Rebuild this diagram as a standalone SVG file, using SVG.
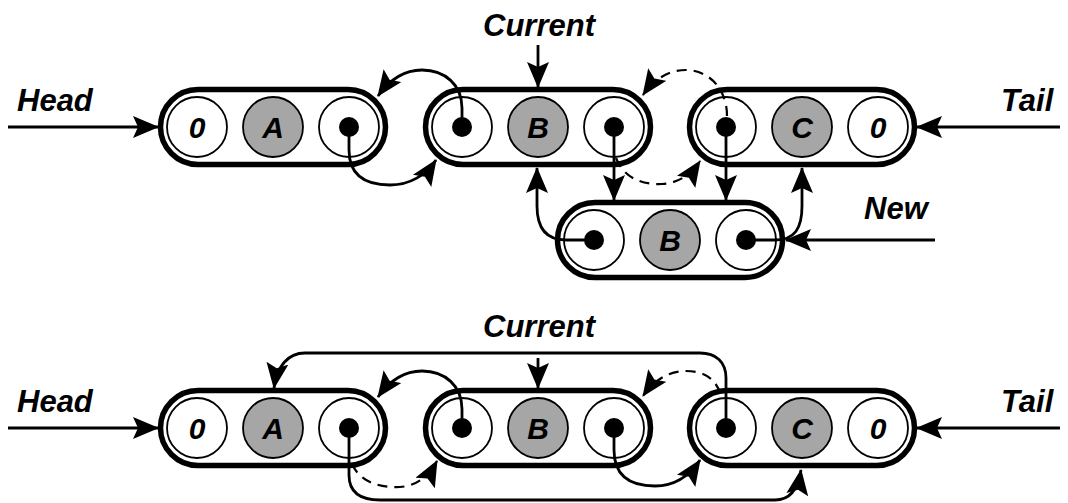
<svg xmlns="http://www.w3.org/2000/svg" width="1068" height="503" viewBox="0 0 1068 503">
<style>
.box{fill:#fff;stroke:#000;stroke-width:5.5}
.c{fill:#fff;stroke:#000;stroke-width:1.8}
.g{fill:#a6a6a6;stroke:#000;stroke-width:1.8}
.dot{fill:#000}
.t{font-family:"Liberation Sans",Arial,sans-serif;font-weight:bold;font-style:italic;font-size:31px;fill:#000}
.v{font-family:"Liberation Sans",Arial,sans-serif;font-weight:bold;font-style:italic;font-size:31px;fill:#000;text-anchor:middle}
.n{font-family:"Liberation Sans",Arial,sans-serif;font-weight:bold;font-style:italic;font-size:30px;fill:#000;text-anchor:middle}
.ln{fill:none;stroke:#000;stroke-width:2.8;marker-end:url(#ah)}
.ds{fill:none;stroke:#000;stroke-width:2.2;stroke-dasharray:10 7;marker-end:url(#ah)}
</style>
<defs>
<marker id="ah" markerUnits="userSpaceOnUse" markerWidth="28" markerHeight="24" refX="25" refY="11" orient="auto" viewBox="0 0 28 24">
<path d="M0,0 L26,11 L0,22 L5,11 Z" fill="#000"/>
</marker>
</defs>

<g id="label-head-top"><text class="t" x="17" y="111">Head</text></g>
<g id="label-tail-top"><text class="t" x="1001" y="111">Tail</text></g>
<g id="label-current-top"><text class="v" x="539" y="36">Current</text></g>
<g id="label-new"><text class="t" x="864" y="219">New</text></g>
<g id="label-head-bottom"><text class="t" x="17" y="412">Head</text></g>
<g id="label-tail-bottom"><text class="t" x="1001" y="412">Tail</text></g>
<g id="label-current-bottom"><text class="v" x="539" y="337">Current</text></g>

<g id="node-A-top">
<rect class="box" x="160.5" y="89.5" width="225" height="75" rx="37.5"/>
<circle class="c" cx="197" cy="127" r="30"/><text class="n" x="197" y="138">0</text>
<circle class="g" cx="273" cy="127" r="30"/><text class="n" x="273" y="138">A</text>
<circle class="c" cx="349" cy="127" r="30"/><circle class="dot" cx="349" cy="127" r="10"/>
</g>
<g id="node-B-top">
<rect class="box" x="425.5" y="89.5" width="225" height="75" rx="37.5"/>
<circle class="c" cx="462" cy="127" r="30"/><circle class="dot" cx="462" cy="127" r="10"/>
<circle class="g" cx="538" cy="127" r="30"/><text class="n" x="538" y="138">B</text>
<circle class="c" cx="614" cy="127" r="30"/><circle class="dot" cx="614" cy="127" r="10"/>
</g>
<g id="node-C-top">
<rect class="box" x="689.5" y="89.5" width="225" height="75" rx="37.5"/>
<circle class="c" cx="726" cy="127" r="30"/><circle class="dot" cx="726" cy="127" r="10"/>
<circle class="g" cx="802" cy="127" r="30"/><text class="n" x="802" y="138">C</text>
<circle class="c" cx="878" cy="127" r="30"/><text class="n" x="878" y="138">0</text>
</g>
<g id="node-New">
<rect class="box" x="557.5" y="202.5" width="225" height="75" rx="37.5"/>
<circle class="c" cx="594" cy="240" r="30"/><circle class="dot" cx="594" cy="240" r="10"/>
<circle class="g" cx="670" cy="240" r="30"/><text class="n" x="670" y="251">B</text>
<circle class="c" cx="746" cy="240" r="30"/><circle class="dot" cx="746" cy="240" r="10"/>
</g>

<g id="node-A-bottom">
<rect class="box" x="160.5" y="390.5" width="225" height="75" rx="37.5"/>
<circle class="c" cx="197" cy="428" r="30"/><text class="n" x="197" y="439">0</text>
<circle class="g" cx="273" cy="428" r="30"/><text class="n" x="273" y="439">A</text>
<circle class="c" cx="349" cy="428" r="30"/><circle class="dot" cx="349" cy="428" r="10"/>
</g>
<g id="node-B-bottom">
<rect class="box" x="425.5" y="390.5" width="225" height="75" rx="37.5"/>
<circle class="c" cx="462" cy="428" r="30"/><circle class="dot" cx="462" cy="428" r="10"/>
<circle class="g" cx="538" cy="428" r="30"/><text class="n" x="538" y="439">B</text>
<circle class="c" cx="614" cy="428" r="30"/><circle class="dot" cx="614" cy="428" r="10"/>
</g>
<g id="node-C-bottom">
<rect class="box" x="689.5" y="390.5" width="225" height="75" rx="37.5"/>
<circle class="c" cx="726" cy="428" r="30"/><circle class="dot" cx="726" cy="428" r="10"/>
<circle class="g" cx="802" cy="428" r="30"/><text class="n" x="802" y="439">C</text>
<circle class="c" cx="878" cy="428" r="30"/><text class="n" x="878" y="439">0</text>
</g>

<g id="connectors">
<path class="ln" d="M8,127 L158,127"/>
<path class="ln" d="M1060,127 L917,127"/>
<path class="ln" d="M538,45 L538,87"/>
<path class="ln" d="M349,127 L349,150 C349,176 366,185 390,185 C410,185 426,175 436,160"/>
<path class="ln" d="M462,127 L462,108 C462,85 445,70 422,70 C402,70 388,82 378,96"/>
<path class="ds" d="M616,158 C624,178 642,185 662,184 C680,183 692,173 700,161"/>
<path class="ds" d="M727,116 C727,88 708,70 686,70 C666,70 652,82 643,95"/>
<path class="ln" d="M614,127 L614,200"/>
<path class="ln" d="M726,127 L726,200"/>
<path class="ln" d="M594,240 L566,240 C546,240 537,228 537,206 L537,168"/>
<path class="ln" d="M746,240 L775,240 C795,240 802,228 802,206 L802,168"/>
<path class="ln" d="M935,240 L786,240"/>
<path class="ln" d="M8,428 L158,428"/>
<path class="ln" d="M1060,428 L917,428"/>
<path class="ln" d="M538,358 L538,388"/>
<path class="ln" d="M726,428 L726,378 C726,362 716,353 700,353 L305,353 C288,353 277,366 274,388"/>
<path class="ln" d="M462,428 L462,409 C462,386 445,371 422,371 C402,371 388,383 378,397"/>
<path class="ds" d="M720,393 C716,380 705,371 686,371 C666,371 652,383 643,396"/>
<path class="ds" d="M352,464 C360,482 380,488 400,487 C418,486 430,474 437,461"/>
<path class="ln" d="M349,428 L349,475 C349,492 360,500 380,500 L775,500 C790,500 798,490 801,470"/>
<path class="ln" d="M614,428 L614,450 C614,477 631,486 655,486 C675,486 690,475 700,460"/>
</g>
</svg>
